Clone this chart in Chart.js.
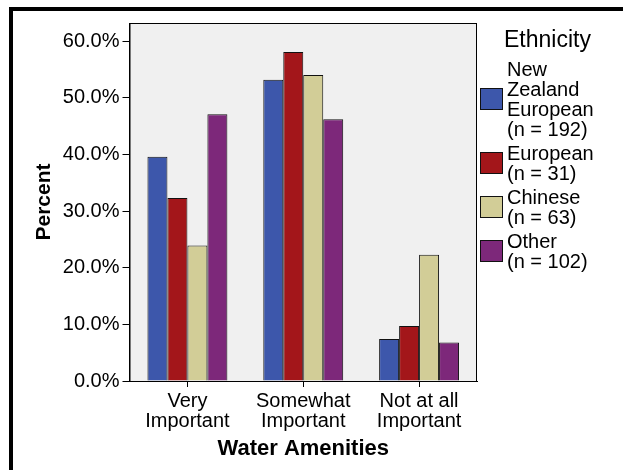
<!DOCTYPE html>
<html>
<head>
<meta charset="utf-8">
<title>Water Amenities by Ethnicity</title>
<script src="https://cdn.jsdelivr.net/npm/chart.js"></script>
<style>
  html, body { margin: 0; padding: 0; background: #fff; }
</style>
</head>
<body>
<canvas id="myChart" width="623" height="470"></canvas>
<script>
// data (percent within each ethnic group)
var categories = [['Very', 'Important'], ['Somewhat', 'Important'], ['Not at all', 'Important']];
var groupLines = [['New', 'Zealand', 'European', '(n = 192)'], ['European', '(n = 31)'], ['Chinese', '(n = 63)'], ['Other', '(n = 102)']];
var nzEuropean = [39.6, 53.2, 7.4];
var european = [32.3, 58.1, 9.7];
var chinese = [23.9, 54.0, 22.3];
var other = [47.1, 46.2, 6.8];
var yTicks = [0, 10, 20, 30, 40, 50, 60];
var colors = ['#3d57ab', '#a3161a', '#d2cd97', '#7d287a'];

var FONT = '"Liberation Sans", Arial, sans-serif';
var series = [nzEuropean, european, chinese, other];

// white page, black frame, grey plot area with a thin border
var background = {
    id: 'background',
    beforeDraw: function(chart) {
        var ctx = chart.ctx, a = chart.chartArea;
        ctx.save();
        ctx.fillStyle = '#fff';
        ctx.fillRect(0, 0, chart.width, chart.height);
        ctx.fillStyle = '#000';
        ctx.fillRect(9, 7, chart.width - 9, 4);
        ctx.fillRect(9, 7, 4, chart.height - 7);
        ctx.fillStyle = '#f0f0f0';
        ctx.fillRect(a.left, a.top, a.right - a.left, a.bottom - a.top);
        ctx.strokeStyle = '#000';
        ctx.lineWidth = 1;
        ctx.strokeRect(a.left + 0.5, a.top + 0.5, a.right - a.left - 1, a.bottom - a.top);
        ctx.restore();
    }
};

// legend drawn by hand so labels can wrap like the original
var legendBox = {
    id: 'legendBox',
    afterDraw: function(chart) {
        var ctx = chart.ctx;
        ctx.save();
        ctx.fillStyle = '#000';
        ctx.textBaseline = 'middle';
        ctx.font = '23px ' + FONT;
        ctx.fillText('Ethnicity', 504, 41);
        ctx.font = '20px ' + FONT;
        var lh = 20, y = 70;
        chart.data.datasets.forEach(function(ds) {
            var lines = ds.lines;
            var mid = y + (lines.length - 1) * lh / 2;
            ctx.fillStyle = ds.backgroundColor;
            ctx.fillRect(480, mid - 12, 22, 21);
            ctx.strokeStyle = '#111';
            ctx.lineWidth = 1;
            ctx.strokeRect(480.5, mid - 11.5, 22, 21);
            ctx.fillStyle = '#000';
            lines.forEach(function(t, i) {
                ctx.fillText(t, 507, y + i * lh);
            });
            y += lines.length * lh + 4;
        });
        ctx.restore();
    }
};

var ctx = document.getElementById('myChart').getContext('2d');
var chart = new Chart(ctx, {
    type: 'bar',
    data: {
        labels: categories,
        datasets: series.map(function(vals, i) {
            return {
                label: groupLines[i].join(' '),
                lines: groupLines[i],
                data: vals,
                backgroundColor: colors[i],
                borderColor: '#111',
                borderWidth: 1,
                borderSkipped: 'bottom',
                categoryPercentage: 0.69,
                barPercentage: 1.0
            };
        })
    },
    options: {
        responsive: false,
        animation: false,
        devicePixelRatio: 1,
        layout: { padding: { left: 0, top: 23, right: 146, bottom: 0 } },
        plugins: {
            legend: { display: false },
            tooltip: { enabled: false }
        },
        scales: {
            x: {
                grid: { offset: false, drawOnChartArea: false, drawTicks: true, tickLength: 6, tickColor: '#000' },
                border: { display: true, color: '#000', width: 1 },
                ticks: { color: '#000', font: { family: FONT, size: 20, lineHeight: 1.0 }, padding: 4, maxRotation: 0 },
                title: { display: true, text: 'Water Amenities', color: '#000', font: { family: FONT, size: 22, weight: 'bold', lineHeight: 1.2 }, padding: { top: 0, bottom: 8 } },
                afterFit: function(s) { s.height = 89; }
            },
            y: {
                min: 0,
                max: 63.2,
                afterBuildTicks: function(s) { s.ticks = yTicks.map(function(v) { return { value: v }; }); },
                grid: { drawOnChartArea: false, drawTicks: true, tickLength: 7, tickColor: '#000' },
                border: { display: true, color: '#000', width: 1 },
                ticks: {
                    color: '#000',
                    font: { family: FONT, size: 20 },
                    padding: 3,
                    callback: function(v) { return v.toFixed(1) + '%'; }
                },
                title: { display: true, text: 'Percent', color: '#000', font: { family: FONT, size: 21, weight: 'bold', lineHeight: 1.2 }, padding: { top: 32, bottom: 0 } },
                afterFit: function(s) { s.width = 129.5; }
            }
        }
    },
    plugins: [background, legendBox]
});
</script>
</body>
</html>
